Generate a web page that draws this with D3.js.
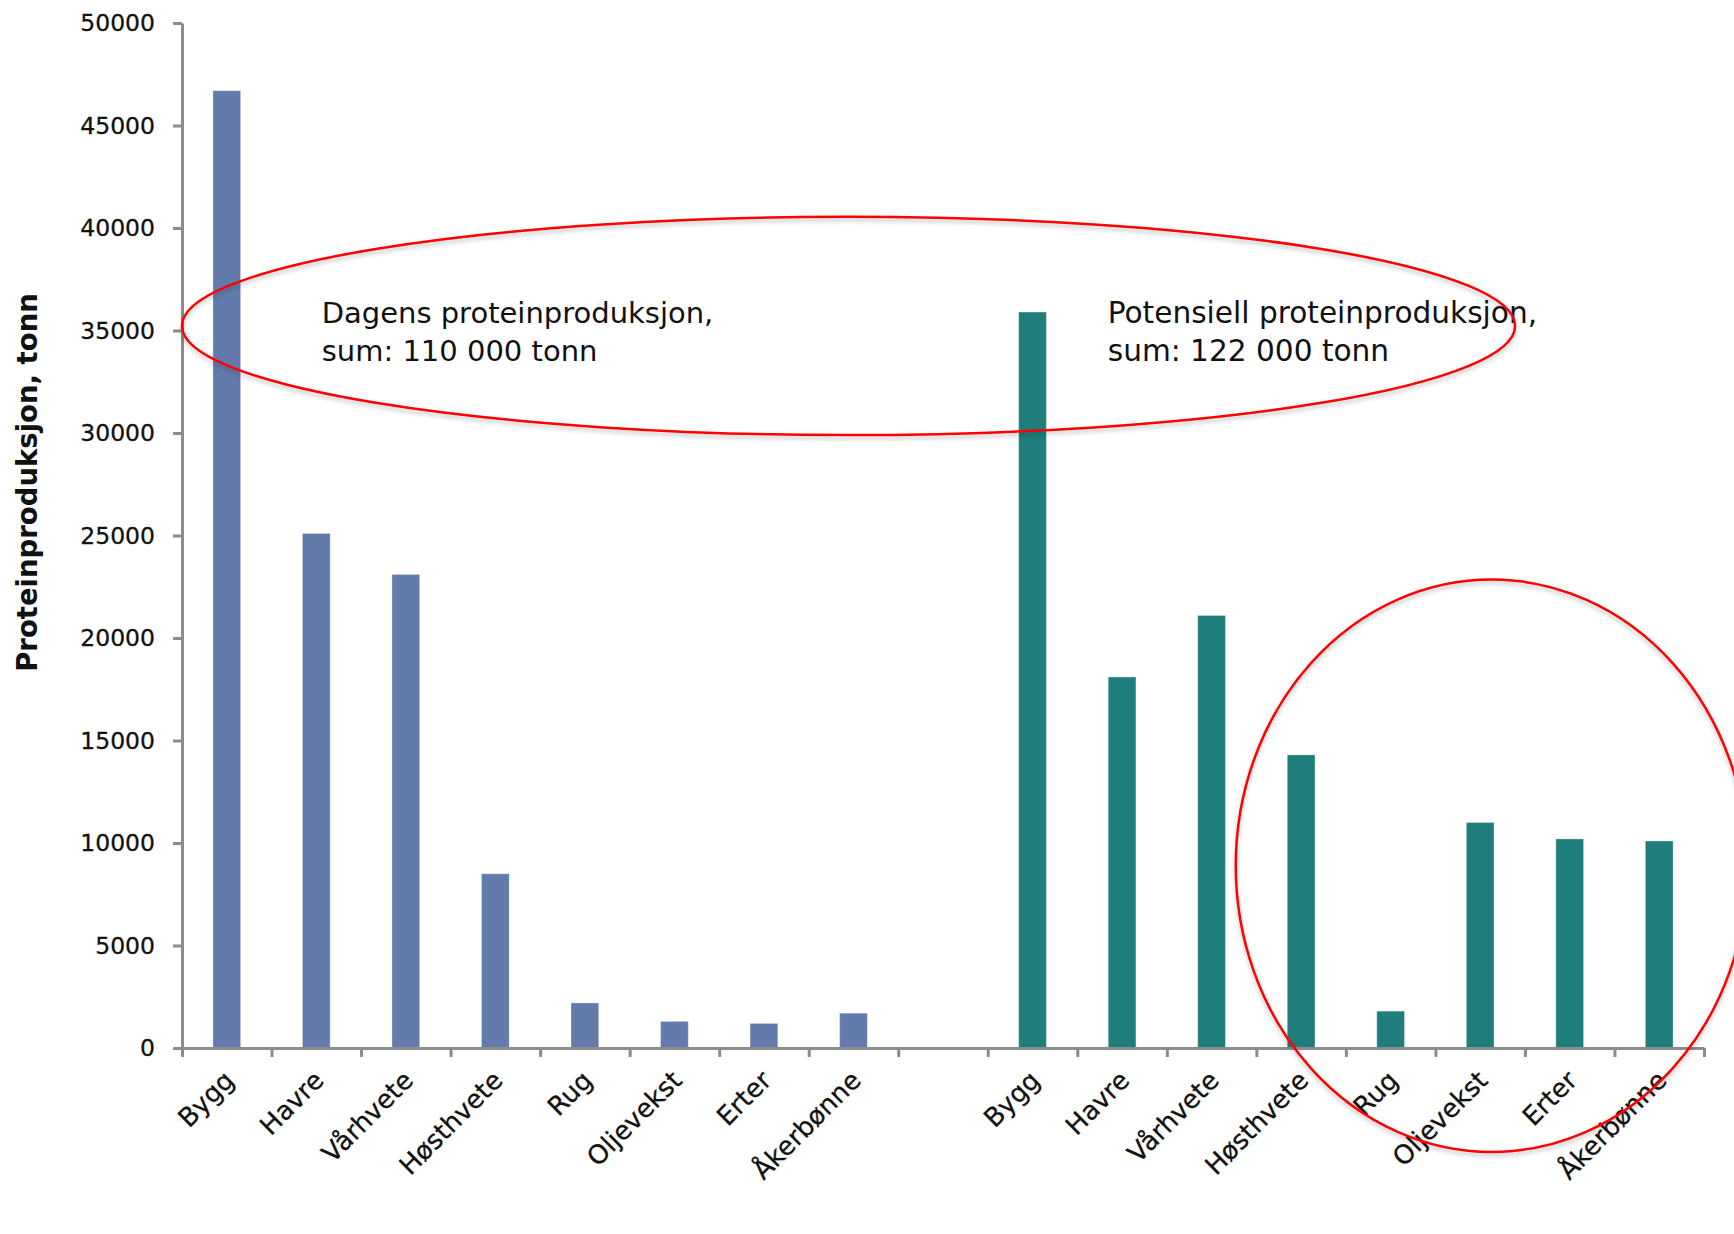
<!DOCTYPE html>
<html>
<head>
<meta charset="utf-8">
<script src="https://cdnjs.cloudflare.com/ajax/libs/d3/7.8.5/d3.min.js"></script>
<style>
  body { margin: 0; background: #fff; }
  svg { display: block; }
</style>
</head>
<body>
<svg></svg>
<script>
const w = 1734;
const h = 1234;

const crops = ["Bygg", "Havre", "Vårhvete", "Høsthvete", "Rug", "Oljevekst", "Erter", "Åkerbønne"];
const dagens = [46700, 25100, 23100, 8500, 2200, 1300, 1200, 1700];
const potensiell = [35900, 18100, 21100, 14300, 1800, 11000, 10200, 10100];
const yTicks = [0, 5000, 10000, 15000, 20000, 25000, 30000, 35000, 40000, 45000, 50000];
const yTitle = "Proteinproduksjon, tonn";
const noteDagens = ["Dagens proteinproduksjon,", "sum: 110 000 tonn"];
const notePotensiell = ["Potensiell proteinproduksjon,", "sum: 122 000 tonn"];

const colDagens = "#637bab";
const colPot = "#1f7d7b";
const axisCol = "#8c8c8c";

// one row per bar, a blank slot between the two groups
const rows = [
  ...crops.map((c, i) => ({key: "d" + i, name: c, value: dagens[i], col: colDagens})),
  {key: "gap", name: "", value: null},
  ...crops.map((c, i) => ({key: "p" + i, name: c, value: potensiell[i], col: colPot}))
];

const svg = d3.select("svg").attr("width", w).attr("height", h);
svg.append("rect").attr("width", w).attr("height", h).attr("fill", "#fff");

const x0 = 182, x1 = 1704, yTop = 23, yBase = 1048;
const xScale = d3.scaleBand().domain(rows.map(d => d.key)).range([x0, x1]).padding(0);
const xSlots = d3.scaleLinear().domain([0, rows.length]).range([x0, x1]);
const yScale = d3.scaleLinear().domain([0, 50000]).range([yBase, yTop]);

const defs = svg.append("defs");
defs.append("filter").attr("id", "shadow").attr("x", "-10%").attr("y", "-10%").attr("width", "120%").attr("height", "130%")
  .append("feDropShadow").attr("dx", 0).attr("dy", 3).attr("stdDeviation", 2)
  .attr("flood-color", "#000").attr("flood-opacity", 0.25);

// bars
const barW = xScale.bandwidth() * 0.31;
svg.append("g").selectAll("rect").data(rows.filter(d => d.value != null)).enter().append("rect")
  .attr("x", d => xScale(d.key) + xScale.bandwidth() / 2 - barW / 2)
  .attr("y", d => yScale(d.value))
  .attr("width", barW)
  .attr("height", d => yBase - yScale(d.value))
  .attr("fill", d => d.col)
  .attr("stroke", "#ffffff").attr("stroke-opacity", 0.35).attr("stroke-width", 1);

// y axis
const yAxis = d3.axisLeft(yScale).tickValues(yTicks).tickFormat(d3.format("d"))
  .tickSize(9).tickSizeOuter(0).tickPadding(18);
const gy = svg.append("g").attr("transform", `translate(${x0},0)`).call(yAxis);
gy.select(".domain").attr("stroke", axisCol).attr("stroke-width", 3);
gy.selectAll(".tick line").attr("stroke", axisCol).attr("stroke-width", 3);
gy.selectAll(".tick text").attr("font-family", "DejaVu Sans").attr("font-size", 23.5)
  .attr("fill", "#111").attr("stroke", "#111").attr("stroke-width", 0.3);

// x axis, ticks between categories
const xAxis = d3.axisBottom(xSlots).tickValues(d3.range(rows.length + 1)).tickFormat("")
  .tickSize(9).tickSizeOuter(0);
const gx = svg.append("g").attr("transform", `translate(0,${yBase})`).call(xAxis);
gx.select(".domain").attr("stroke", axisCol).attr("stroke-width", 3);
gx.selectAll(".tick line").attr("stroke", axisCol).attr("stroke-width", 3);

// category labels
svg.append("g").selectAll("text").data(rows.filter(d => d.name)).enter().append("text")
  .attr("transform", d => `translate(${xScale(d.key) + xScale.bandwidth() / 2 + 9},${yBase + 34}) rotate(-45)`)
  .attr("text-anchor", "end")
  .attr("font-family", "DejaVu Sans").attr("font-size", 26).attr("fill", "#111")
  .attr("stroke", "#111").attr("stroke-width", 0.3)
  .text(d => d.name);

// y title
svg.append("text")
  .attr("transform", `translate(37,${(yTop + yBase) / 2 - 53}) rotate(-90)`)
  .attr("text-anchor", "middle")
  .attr("font-family", "DejaVu Sans").attr("font-weight", "bold").attr("font-size", 27.5).attr("fill", "#111")
  .text(yTitle);

// notes
const addNote = (lines, slot, val, size) => {
  svg.append("text")
    .attr("x", xSlots(slot)).attr("y", yScale(val))
    .attr("font-family", "DejaVu Sans").attr("font-size", size).attr("fill", "#111")
    .selectAll("tspan").data(lines).enter().append("tspan")
    .attr("x", xSlots(slot)).attr("dy", (d, i) => i === 0 ? 0 : 38)
    .text(d => d);
};
addNote(noteDagens, 1.56, 35380, 29);
addNote(notePotensiell, 10.34, 35350, 29.6);

// red ellipses around the groups
const ring = (xa, xb, va, vb) => {
  const cx = (xSlots(xa) + xSlots(xb)) / 2, cy = (yScale(va) + yScale(vb)) / 2;
  svg.append("ellipse")
    .attr("cx", cx).attr("cy", cy)
    .attr("rx", Math.abs(xSlots(xb) - xSlots(xa)) / 2)
    .attr("ry", Math.abs(yScale(vb) - yScale(va)) / 2)
    .attr("fill", "none").attr("stroke", "#ff0000").attr("stroke-width", 2.5)
    .attr("filter", "url(#shadow)");
};
ring(0.0, 14.89, 40550, 29900);
ring(11.77, 17.49, 22850, -5070);
</script>
</body>
</html>
